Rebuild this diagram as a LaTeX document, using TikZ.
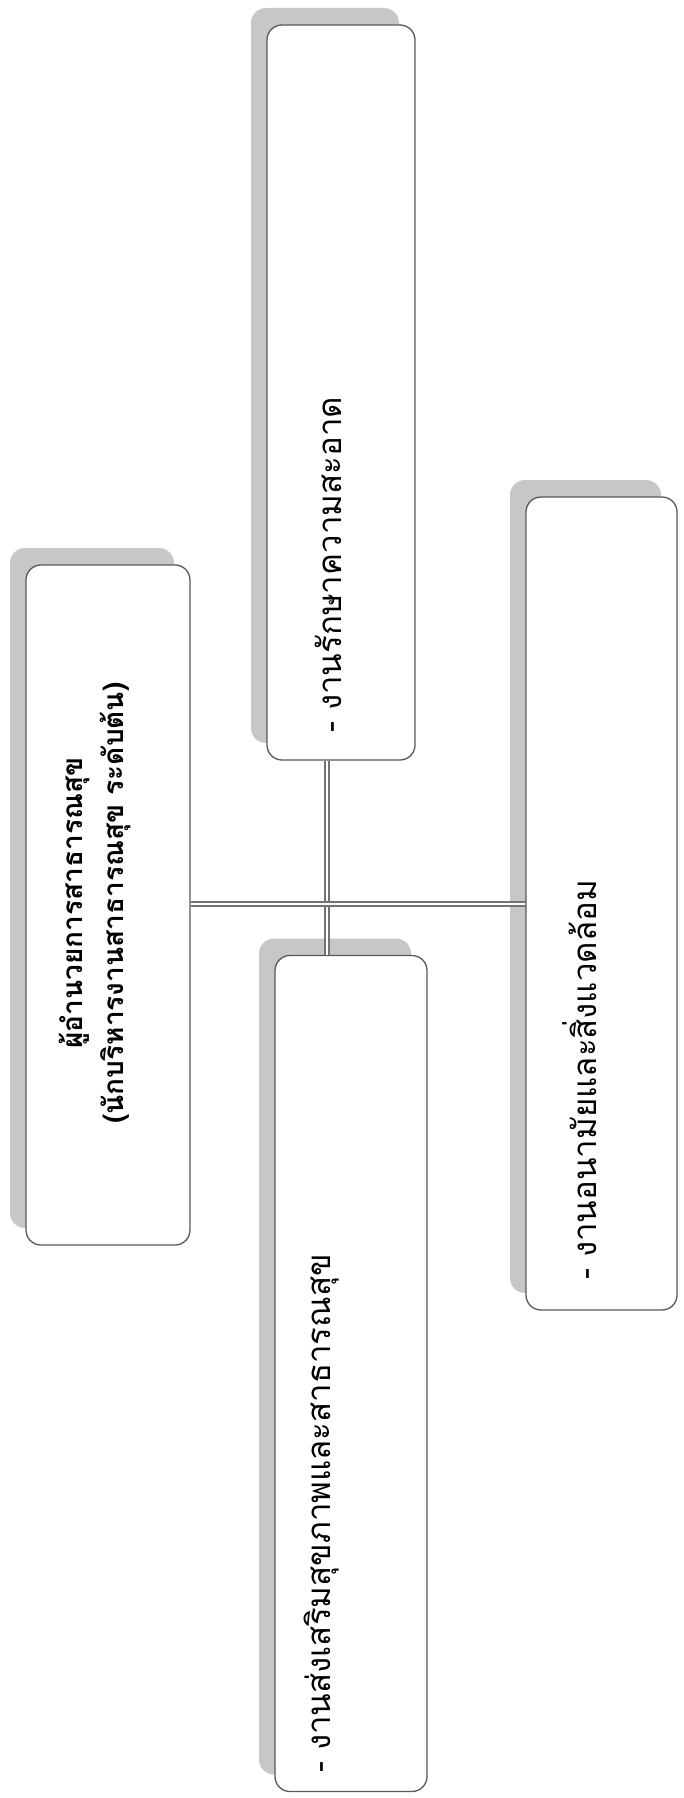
\documentclass[tikz,border=0pt]{standalone}
\usepackage{fontspec}
\newfontfamily\thaifont[Script=Thai]{Loma}
\usetikzlibrary{shadows}
\begin{document}
\begin{tikzpicture}[x=1pt,y=-1pt,
  box/.style={draw=black!65, line width=1.3pt, fill=white, rounded corners=15pt,
    inner sep=0pt,
    general shadow={fill=black!22, shadow xshift=-16pt, shadow yshift=17pt}},
  label/.style={rotate=90, inner sep=0pt, font=\thaifont\fontsize{33}{40}\selectfont},
  title/.style={rotate=90, inner sep=0pt, align=center, font=\thaifont\bfseries\fontsize{28}{41}\selectfont},
  link/.style={draw=black!55, double=white, double distance=2.4pt, line width=2.2pt}]
\useasboundingbox (0,0) rectangle (683,1798);
\fill[white] (0,0) rectangle (683,1798);
% boxes
\node[box, minimum width=164pt, minimum height=680pt] (b1) at (108,905) {};
\node[box, minimum width=148pt, minimum height=735pt] (b2) at (341,392.5) {};
\node[box, minimum width=152pt, minimum height=836pt] (b3) at (351,1373.5) {};
\node[box, minimum width=151pt, minimum height=813pt] (b4) at (601.5,903.5) {};
% connectors
\coordinate (vx) at (327,904);
\draw[link] (b2.south -| vx) -- (b3.north -| vx);
\draw[link] (b1.east |- vx) -- (b4.west |- vx);
% texts
\node[title] (t1) at (95,903) {ผู้อำนวยการสาธารณสุข\\(นักบริหารงานสาธารณสุข ระดับต้น)};
\node[label, anchor=west] (t2) at (328,733) {- งานรักษาความสะอาด};
\node[label, anchor=west] (t3) at (322,1773) {- งานส่งเสริมสุขภาพและสาธารณสุข};
\node[label, anchor=west] (t4) at (580,1280) {- งานอนามัยและสิ่งแวดล้อม};
\end{tikzpicture}
\end{document}
